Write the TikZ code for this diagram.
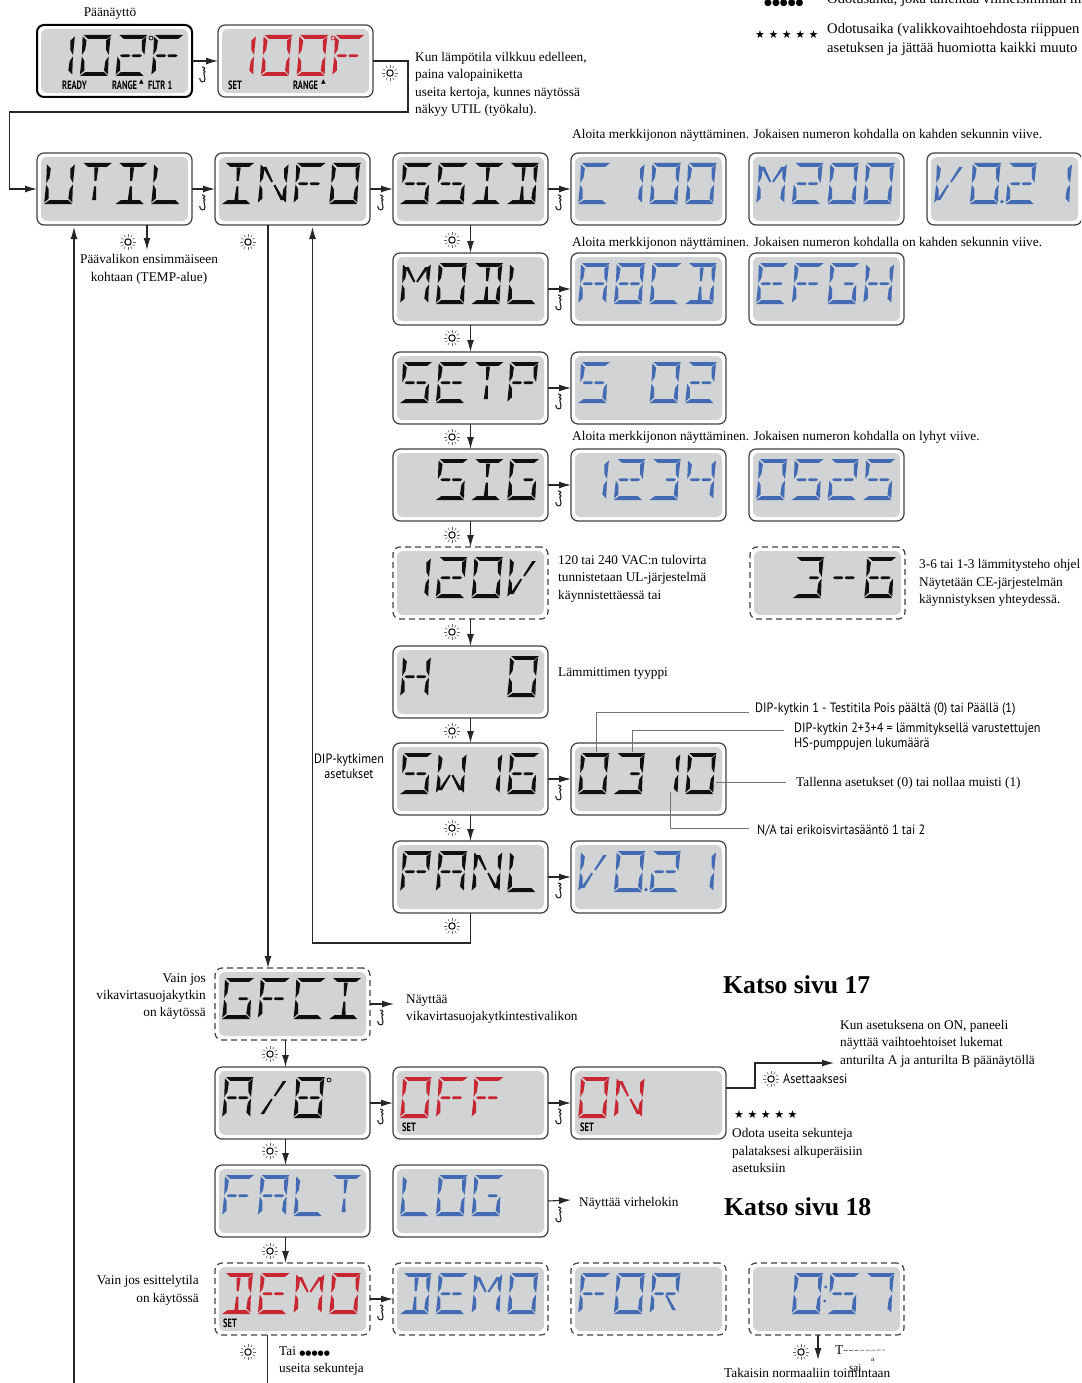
\documentclass[tikz,border=0pt]{standalone}
\usepackage{fontspec}
\usetikzlibrary{arrows.meta}
\setmainfont{Liberation Serif}
\newfontfamily\dipfont[FakeStretch=0.9]{PT Sans}
\newfontfamily\tagfont[FakeStretch=0.7]{PT Sans Bold}
\newfontfamily\symfont{DejaVu Sans}
\newcommand\notefont{\fontsize{13.3}{17.4}\selectfont}
\definecolor{lcdface}{RGB}{209,211,212}
\definecolor{lcdblue}{RGB}{66,107,180}
\definecolor{lcdred}{RGB}{200,38,48}
\definecolor{lcdblack}{RGB}{15,15,15}
\tikzset{
    lcdsolid/.style={draw=black!75, line width=1.2pt, rounded corners=7pt, anchor=north west, minimum width=155pt, minimum height=72pt, inner sep=0pt, outer sep=0pt},
    lcdmain/.style={lcdsolid, draw=black, line width=2pt},
    lcddash/.style={lcdsolid, line width=1.2pt, dash pattern=on 6pt off 4pt},
    flow/.style={draw=black!85, line width=1.1pt, -{Latex[length=12pt,width=7pt]}},
    leadline/.style={draw=black!55, line width=.7pt},
    note/.style={font=\notefont, align=left, inner sep=0pt, anchor=west, yshift=-1.5pt},
    dipnote/.style={note, font=\dipfont\fontsize{13.5}{14.6}\selectfont},
    tagnote/.style={inner sep=0pt, anchor=west, font=\tagfont\fontsize{12}{12}\selectfont},
    bighead/.style={inner sep=0pt, anchor=west, font=\fontsize{25.7}{28}\selectfont\bfseries},
    sunicon/.pic={
        \draw[black, line width=1pt] (0,0) circle (3.2);
        \foreach \a in {0,30,...,330}
            \draw[black!60, line width=.6pt] (\a:5.3) -- (\a:8.2);
    },
    hookicon/.pic={
        \draw[black!85, line width=1.1pt] (-1,-8) .. controls (2.5,-8) and (2.5,-5) .. (.3,-5)
            .. controls (2.5,-4) and (2.5,-2) .. (.8,-2) -- (2,4)
            .. controls (2.5,8) and (-3.5,8) .. (-3.3,3);
    }
}
% segments of one display cell
\newcommand\defseg[2]{\expandafter\def\csname lcdseg-#1\endcsname{#2}}
\newcommand\defchar[2]{\expandafter\def\csname lcdchar-#1\endcsname{#2}}
\defseg{a}{(2,0)--(30,0)--(25.5,3.8)--(6.5,3.8)--cycle}
\defseg{d}{(6,37.2)--(25,37.2)--(29,41)--(1,41)--cycle}
\defseg{f}{(1,1.5)--(5.2,5.5)--(4.5,15)--(1.6,20)--cycle}
\defseg{e}{(1.6,21.5)--(4.5,26)--(5.2,35.5)--(1,39.5)--cycle}
\defseg{b}{(29,1.5)--(24.8,5.5)--(25.5,15)--(28.4,20)--cycle}
\defseg{c}{(28.4,21.5)--(25.5,26)--(24.8,35.5)--(29,39.5)--cycle}
\defseg{g}{(4,20.7)--(6,19.3)--(13,19.3)--(14.3,20.7)--(13,22.1)--(6,22.1)--cycle}
\defseg{q}{(15.7,20.7)--(17,19.3)--(24,19.3)--(26,20.7)--(24,22.1)--(17,22.1)--cycle}
\defseg{i}{(13,4.5)--(17,4.5)--(16,18)--(14,18)--cycle}
\defseg{l}{(14,23.5)--(16,23.5)--(17,37)--(13,37)--cycle}
\defseg{h}{(3.5,4)--(7,4)--(14.5,18.5)--(13,19.5)--cycle}
\defseg{j}{(27,4)--(23.5,4)--(15.5,18.5)--(17,19.5)--cycle}
\defseg{k}{(3.5,37)--(7,37)--(14.5,22.5)--(13,21.5)--cycle}
\defseg{m}{(27,37)--(23.5,37)--(15.5,22.5)--(17,21.5)--cycle}
\defseg{p}{(33,38.6) circle (1.9)}
\defseg{r}{(33,14) circle (1.6) (33,28) circle (1.6)}
\defseg{n}{(0,0)}
\defchar{_}{n}
\defchar{0}{a,b,c,d,e,f}
\defchar{0.}{a,b,c,d,e,f,p}
\defchar{0:}{a,b,c,d,e,f,r}
\defchar{1}{b,c}
\defchar{2}{a,b,q,g,e,d}
\defchar{3}{a,b,q,c,d}
\defchar{4}{f,g,q,b,c}
\defchar{5}{a,f,g,q,c,d}
\defchar{6}{a,f,e,d,c,g,q}
\defchar{7}{a,b,c}
\defchar{A}{a,b,c,e,f,g,q}
\defchar{B}{a,b,c,d,e,f,g,q}
\defchar{C}{a,f,e,d}
\defchar{D}{a,b,c,d,i,l}
\defchar{E}{a,f,e,d,g,q}
\defchar{F}{a,f,e,g,q}
\defchar{G}{a,f,e,d,c,q}
\defchar{H}{f,e,b,c,g,q}
\defchar{I}{a,d,i,l}
\defchar{L}{f,e,d}
\defchar{M}{f,e,b,c,h,j}
\defchar{N}{f,e,b,c,h,m}
\defchar{O}{a,b,c,d,e,f}
\defchar{P}{a,b,f,e,g,q}
\defchar{R}{a,b,f,e,g,q,m}
\defchar{S}{a,f,g,q,c,d}
\defchar{T}{a,i,l}
\defchar{U}{f,e,d,b,c}
\defchar{V}{f,e,k,j}
\defchar{W}{f,e,b,c,k,m}
\defchar{/}{j,k}
\defchar{-}{g,q}
\newcommand\lcdtext[3]{%
    \foreach \ch [count=\n from 0] in {#3} {
        \begin{scope}[shift={(#1.north west)}, shift={(9+35.7*\n,10)}, xslant=.07, #2]
            \edef\seglist{\csname lcdchar-\ch\endcsname}
            \foreach \sg in \seglist {
                \expandafter\let\expandafter\curseg\csname lcdseg-\sg\endcsname
                \fill \curseg;
            }
        \end{scope}
    }%
}
\newcommand\lcdpanel[6][lcdsolid]{%
    \node[#1] (#2) at (#3,#4) {};
    \fill[lcdface, rounded corners=6pt] ([shift={(4,4)}]#2.north west) rectangle ([shift={(-4,-4)}]#2.south east);
    \lcdtext{#2}{#5}{#6}
}
\newcommand\stepto[2]{%
    \draw[flow] (#1.east) -- (#2.west);
    \pic at ([shift={(11,14)}]#1.east) {hookicon};
}
\begin{document}
\begin{tikzpicture}[x=1pt, y=-1pt]
    \useasboundingbox (0,0) rectangle (1081,1383);
    \clip (0,0) rectangle (1081,1383);

    % top two readouts
    \lcdpanel[lcdmain]{temp}{37}{25}{lcdblack}{1,0,2,F}
    \lcdpanel{settemp}{218}{25}{lcdred}{1,0,0,F}
    \node[draw=lcdblack, circle, line width=.8pt, inner sep=0pt, minimum size=4pt] (tempdeg) at ([shift={(114,13)}]temp.north west) {};
    \node[draw=lcdred, circle, line width=.8pt, inner sep=0pt, minimum size=4pt] (setdeg) at ([shift={(115,13)}]settemp.north west) {};
    \node[tagnote] (ready) at (62,85) {READY};
    \node[tagnote] (range) at (112,85) {RANGE};
    \node[tagnote, font=\symfont\fontsize{6}{6}\selectfont] (rangeup) at (139,82) {▲};
    \node[tagnote] (fltr) at (148,85) {FLTR 1};
    \node[tagnote] (settag) at (228,85) {SET};
    \node[tagnote] (setrange) at (293,85) {RANGE};
    \node[tagnote, font=\symfont\fontsize{6}{6}\selectfont] (setrangeup) at (321,82) {▲};

    % main column
    \lcdpanel{util}{37}{153}{lcdblack}{U,T,I,L}
    \lcdpanel{info}{215}{153}{lcdblack}{I,N,F,O}
    \lcdpanel{ssid}{393}{153}{lcdblack}{S,S,I,D}
    \lcdpanel{ssida}{571}{153}{lcdblue}{C,1,0,0}
    \lcdpanel{ssidb}{749}{153}{lcdblue}{M,2,0,0}
    \lcdpanel{ssidc}{927}{153}{lcdblue}{V,0.,2,1}
    \lcdpanel{modl}{393}{253}{lcdblack}{M,O,D,L}
    \lcdpanel{modla}{571}{253}{lcdblue}{A,B,C,D}
    \lcdpanel{modlb}{749}{253}{lcdblue}{E,F,G,H}
    \lcdpanel{setp}{393}{352}{lcdblack}{S,E,T,P}
    \lcdpanel{setpa}{571}{352}{lcdblue}{S,_,0,2}
    \lcdpanel{sig}{393}{449}{lcdblack}{_,S,I,G}
    \lcdpanel{siga}{571}{449}{lcdblue}{1,2,3,4}
    \lcdpanel{sigb}{749}{449}{lcdblue}{0,5,2,5}
    \lcdpanel[lcddash]{volt}{393}{547}{lcdblack}{1,2,0,V}
    \lcdpanel[lcddash]{heatw}{750}{547}{lcdblack}{_,3,-,6}
    \lcdpanel{htr}{393}{646}{lcdblack}{H,_,_,0}
    \lcdpanel{sw}{393}{743}{lcdblack}{S,W,1,6}
    \lcdpanel{swa}{571}{743}{lcdblack}{0,3,1,0}
    \lcdpanel{panl}{393}{841}{lcdblack}{P,A,N,L}
    \lcdpanel{panla}{571}{841}{lcdblue}{V,0.,2,1}

    % lower column
    \lcdpanel[lcddash]{gfci}{215}{968}{lcdblack}{G,F,C,I}
    \lcdpanel{ab}{215}{1067}{lcdblack}{A,/,B}
    \node[draw=lcdblack, circle, line width=.8pt, inner sep=0pt, minimum size=4pt] (abdeg) at ([shift={(114,13)}]ab.north west) {};
    \lcdpanel{off}{393}{1067}{lcdred}{O,F,F}
    \lcdpanel{on}{571}{1067}{lcdred}{O,N}
    \lcdpanel{falt}{215}{1165}{lcdblue}{F,A,L,T}
    \lcdpanel{log}{393}{1165}{lcdblue}{L,O,G}
    \lcdpanel[lcddash]{demo}{215}{1263}{lcdred}{D,E,M,O}
    \lcdpanel[lcddash]{demoa}{393}{1263}{lcdblue}{D,E,M,O}
    \lcdpanel[lcddash]{demob}{571}{1263}{lcdblue}{F,O,R}
    \lcdpanel[lcddash]{democ}{749}{1263}{lcdblue}{_,0:,5,7}
    \node[tagnote] (offset) at (402,1127) {SET};
    \node[tagnote] (onset) at (580,1127) {SET};
    \node[tagnote] (demoset) at (223,1323) {SET};

    % free ends
    \coordinate (backr) at (408,112);
    \coordinate (backl) at (9.5,112);
    \coordinate (utildown) at (147,250);
    \coordinate (utilfoot) at (74,1383);
    \coordinate (utilup) at (74,227);
    \coordinate (infodown) at (268,225);
    \coordinate (infoup) at (312.5,227);
    \coordinate (panlfoot) at (312.5,943);
    \coordinate (gfciout) at (394,1004);
    \coordinate (logout) at (571,1200);
    \coordinate (onbend) at (755,1088);
    \coordinate (onup) at (755,1063);
    \coordinate (onout) at (834,1063);
    \coordinate (demofoot) at (267,1383);
    \coordinate (demotop) at (267,1335);
    \coordinate (demodown) at (818,1360);

    % connectors
    \draw[flow] (temp.east) -- (settemp.west |- temp.east);
    \pic at ([shift={(11,14)}]temp.east) {hookicon};
    \draw[flow] (settemp.east) -| (backr) -- (backl) |- (util.west);
    \stepto{util}{info}
    \stepto{info}{ssid}
    \stepto{ssid}{ssida}
    \stepto{modl}{modla}
    \stepto{setp}{setpa}
    \stepto{sig}{siga}
    \stepto{sw}{swa}
    \stepto{panl}{panla}
    \stepto{ab}{off}
    \stepto{off}{on}
    \stepto{demo}{demoa}
    \draw[flow] (util.south -| utildown) -- (utildown);
    \draw[flow] (utilfoot) -- (utilup);
    \draw[flow] (info.south -| infodown) -- (gfci.north -| infodown);
    \draw[flow] (panl.south) |- (panlfoot) -- (infoup);
    \draw[flow] (ssid.south) -- (modl.north);
    \draw[flow] (modl.south) -- (setp.north);
    \draw[flow] (setp.south) -- (sig.north);
    \draw[flow] (sig.south) -- (volt.north);
    \draw[flow] (volt.south) -- (htr.north);
    \draw[flow] (htr.south) -- (sw.north);
    \draw[flow] (sw.south) -- (panl.north);
    \draw[flow] (gfci.east) -- (gfciout);
    \pic at ([shift={(11,14)}]gfci.east) {hookicon};
    \draw[flow] ([xshift=-7pt]gfci.south) -- ([xshift=-7pt]ab.north);
    \draw[flow] ([xshift=-7pt]ab.south) -- ([xshift=-7pt]falt.north);
    \draw[flow] ([xshift=-7pt]falt.south) -- ([xshift=-7pt]demo.north);
    \draw[flow] (log.east) -- (logout);
    \pic at ([shift={(11,14)}]log.east) {hookicon};
    \draw[flow] (on.east |- onbend) -- (onbend) -- (onup) -- (onout);
    \draw[draw=black!85, line width=1pt] (demotop) -- (demofoot);
    \draw[flow] (democ.south -| demodown) -- (demodown);

    % suns
    \foreach \sx/\sy in {390/73, 128/242, 248/242, 452/240, 452/338, 452/437, 452/535, 452/632, 452/731, 452/828, 452/926, 270/1054, 270/1151, 270/1251, 248/1352, 771/1079, 801/1352}
        \pic at (\sx,\sy) {sunicon};

    % leader lines at the dip switch readout
    \coordinate (lead1) at (596,712);
    \coordinate (lead1a) at (749,712);
    \coordinate (lead2) at (632,730);
    \coordinate (lead2a) at (784,730);
    \coordinate (lead3) at (716,782);
    \coordinate (lead3a) at (786,782);
    \coordinate (lead4) at (670,792);
    \coordinate (lead4a) at (749,828);
    \draw[leadline] (lead1 |- swa.north) ++(0,9) -- (lead1) -- (lead1a);
    \draw[leadline] (lead2 |- swa.north) ++(0,9) -- (lead2) -- (lead2a);
    \draw[leadline] (lead3) -- (lead3a);
    \draw[leadline] (lead4) |- (lead4a);

    % legend, top right
    \node[note, font=\symfont\fontsize{9}{9}\selectfont] (dots) at (764,1.5) {●●●●●};
    \node[note, font=\symfont\fontsize{11}{11}\selectfont] (stars) at (755,33.5) {★ ★ ★ ★ ★};
    \node[note, font=\fontsize{14.6}{19}\selectfont] (dotsnote) at (827,-2) {Odotusaika, joka tallentaa viimeisimmän m};
    \node[note, font=\fontsize{14.6}{19}\selectfont] (starsnote) at (827,37.5) {Odotusaika (valikkovaihtoehdosta riippuen\\asetuksen ja jättää huomiotta kaikki muuto};

    % notes
    \node[note, anchor=center] (mainlbl) at (110,12) {Päänäyttö};
    \node[note] (tempnote) at (415,83) {Kun lämpötila vilkkuu edelleen,\\paina valopainiketta\\useita kertoja, kunnes näytössä\\näkyy UTIL (työkalu).};
    \node[note] (seqa) at (572,134) {Aloita merkkijonon näyttäminen. Jokaisen numeron kohdalla on kahden sekunnin viive.};
    \node[note] (seqb) at (572,242) {Aloita merkkijonon näyttäminen. Jokaisen numeron kohdalla on kahden sekunnin viive.};
    \node[note] (seqc) at (572,436) {Aloita merkkijonon näyttäminen. Jokaisen numeron kohdalla on lyhyt viive.};
    \node[note, anchor=center, align=center] (utilnote) at (149,268) {Päävalikon ensimmäiseen\\kohtaan (TEMP-alue)};
    \node[note] (voltnote) at (558,577) {120 tai 240 VAC:n tulovirta\\tunnistetaan UL-järjestelmä\\käynnistettäessä tai};
    \node[note] (heatnote) at (919,581.5) {3-6 tai 1-3 lämmitysteho ohjel\\Näytetään CE-järjestelmän\\käynnistyksen yhteydessä.};
    \node[note] (htrnote) at (558,672) {Lämmittimen tyyppi};
    \node[dipnote, anchor=center, align=center] (swnote) at (349,765) {DIP-kytkimen\\asetukset};
    \node[dipnote] (dipa) at (755,708) {DIP-kytkin 1 - Testitila Pois päältä (0) tai Päällä (1)};
    \node[dipnote] (dipb) at (794,735) {DIP-kytkin 2+3+4 = lämmityksellä varustettujen\\HS-pumppujen lukumäärä};
    \node[note] (dipc) at (796,782) {Tallenna asetukset (0) tai nollaa muisti (1)};
    \node[dipnote] (dipd) at (757,829) {N/A tai erikoisvirtasääntö 1 tai 2};
    \node[bighead] (page17) at (723,985) {Katso sivu 17};
    \node[bighead] (page18) at (724,1207) {Katso sivu 18};
    \node[note, anchor=east, align=right] (gfcileft) at (206,995) {Vain jos\\vikavirtasuojakytkin\\on käytössä};
    \node[note] (gfcinote) at (406,1007.5) {Näyttää\\vikavirtasuojakytkintestivalikon};
    \node[note] (onnote) at (840,1042) {Kun asetuksena on ON, paneeli\\näyttää vaihtoehtoiset lukemat\\anturilta A ja anturilta B päänäytöllä};
    \node[dipnote] (onlabel) at (783,1077) {Asettaaksesi};
    \node[note, font=\symfont\fontsize{11}{11}\selectfont] (onstars) at (734,1113) {★ ★ ★ ★ ★};
    \node[note] (onwait) at (732,1149) {Odota useita sekunteja\\palataksesi alkuperäisiin\\asetuksiin};
    \node[note] (lognote) at (579,1202) {Näyttää virhelokin};
    \node[note, anchor=east, align=right] (demoleft) at (199,1289) {Vain jos esittelytila\\on käytössä};
    \node[note] (demonote) at (279,1359.5) {Tai {\symfont\fontsize{7}{7}\selectfont ●●●●●}\\useita sekunteja};
    \node[note] (normal) at (724,1371.5) {Takaisin normaaliin toimintaan};
    \node[note] (tlabel) at (835,1349) {T};
    \coordinate (tdash) at (885,1350);
    \draw[black!55, line width=.8pt, dash pattern=on 4pt off 1.5pt] (tlabel.east) -- (tdash);
    \node[note, font=\fontsize{11}{12}\selectfont] (sailbl) at (849,1366) {sai};
    \node[note, font=\fontsize{7}{8}\selectfont] (smalla) at (871,1358) {a};
\end{tikzpicture}
\end{document}
